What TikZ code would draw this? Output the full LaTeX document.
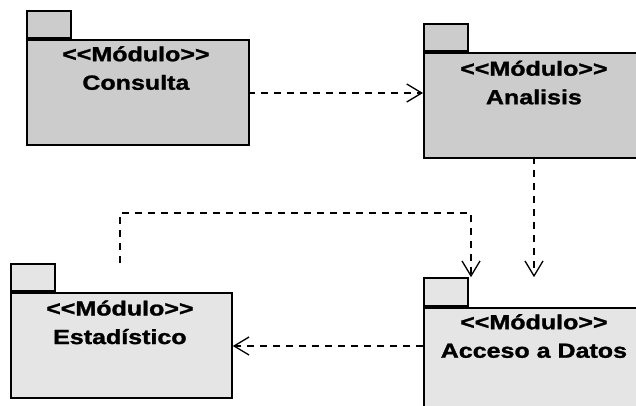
\documentclass[tikz,border=0pt]{standalone}
\usepackage{fontspec}
\usepackage{graphicx}
\setmainfont{Liberation Sans}[BoldFeatures={FakeBold=1.2}]
\usetikzlibrary{arrows.meta}
\newcommand{\hstretch}[1]{\scalebox{1.22}[1]{#1}}
\newcommand{\modtag}{\hstretch{{\textless}\kern0pt{\textless}M\'odulo{\textgreater}\kern0pt{\textgreater}}}
\tikzset{
  pkgbody/.style={draw=black, line width=1.8pt, minimum width=222pt, minimum height=105pt, inner sep=0pt, anchor=north west},
  pkgtab/.style={draw=black, line width=1.8pt, minimum width=44pt, minimum height=27pt, inner sep=0pt, anchor=south west},
  pkgtext/.style={font=\bfseries\fontsize{20.5}{28.5}\selectfont, align=center, anchor=north, inner sep=0pt},
  darkfill/.style={fill=black!20},
  lightfill/.style={fill=black!10},
  dep/.style={dash pattern=on 7pt off 6pt, line width=1.3pt, -{Straight Barb[length=15pt,width=18pt,line width=1.3pt]}}
}
\begin{document}
\begin{tikzpicture}[x=1pt,y=-1pt]
\useasboundingbox (0,0) rectangle (636,406);
\clip (0,0) rectangle (636,406);
\fill[white] (0,0) rectangle (636,406);

% Consulta
\node[pkgbody, darkfill] (consulta) at (26,39) {};
\node[pkgtab, darkfill] (consultaTab) at (consulta.north west) {};
\node[pkgtext] (consultaText) at ([yshift=-7pt,xshift=-2pt]consulta.north) {\modtag\\\hstretch{Consulta}};

% Analisis
\node[pkgbody, darkfill] (analisis) at (423,52) {};
\node[pkgtab, darkfill] (analisisTab) at (analisis.north west) {};
\node[pkgtext] (analisisText) at ([yshift=-8.5pt,xshift=-1pt]analisis.north) {\modtag\\\hstretch{Analisis}};

% Estadistico
\node[pkgbody, lightfill, minimum width=221pt] (estadistico) at (10,292) {};
\node[pkgtab, lightfill] (estadisticoTab) at (estadistico.north west) {};
\node[pkgtext] (estadisticoText) at ([yshift=-8.3pt,xshift=-1.5pt]estadistico.north) {\modtag\\\hstretch{Estad\'istico}};

% Acceso a Datos
\node[pkgbody, lightfill] (acceso) at (423,307) {};
\node[pkgtab, lightfill, minimum height=28pt] (accesoTab) at (acceso.north west) {};
\node[pkgtext] (accesoText) at ([yshift=-7pt,xshift=-1pt]acceso.north) {\modtag\\\hstretch{Acceso a Datos}};

% connectors
\coordinate (c1) at (248,93);
\draw[dep] (c1) -- (c1 -| analisis.west);
\coordinate (c2) at (534,157);
\draw[dep] (c2) -- (c2 |- accesoTab.north);
\coordinate (estStart) at (120,263);
\coordinate (bend) at (471,213);
\draw[dep] (estStart) -- (estStart |- bend) -- (bend) -- (bend |- accesoTab.north);
\coordinate (c4) at (423,346);
\draw[dep] (c4) -- (c4 -| estadistico.east);
\end{tikzpicture}
\end{document}
